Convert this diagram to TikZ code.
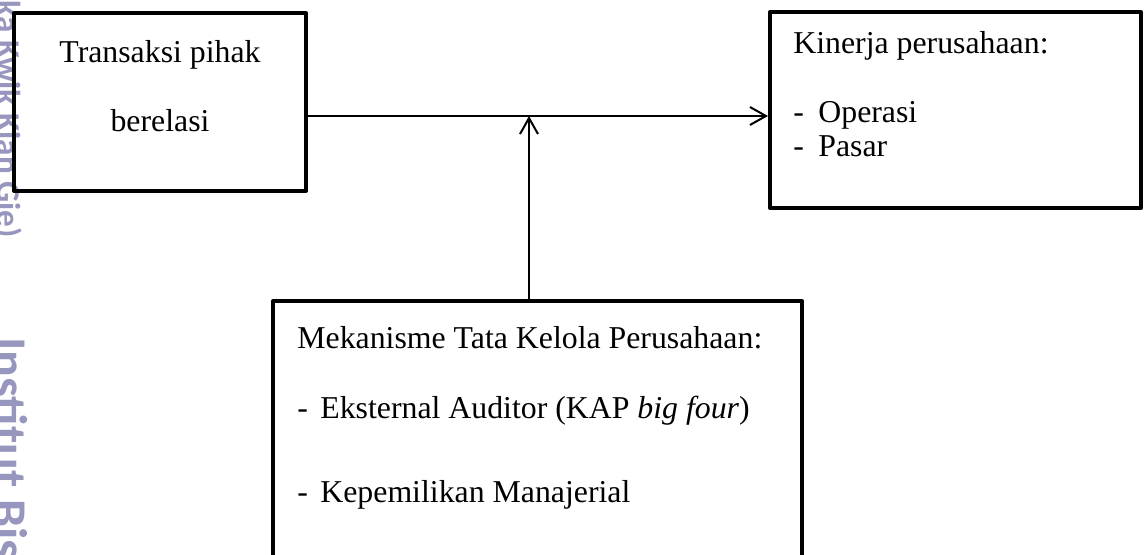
\documentclass[tikz,border=0pt]{standalone}
\usepackage{fontspec}
\setmainfont{Liberation Serif}
\newfontfamily\wmfont{Carlito}
\usetikzlibrary{arrows.meta}
\definecolor{wmcolor}{RGB}{150,150,190}

\begin{document}
\begin{tikzpicture}[x=0.5pt,y=-0.5pt,
	box/.style={shape=rectangle,draw=black,line width=2pt,line join=round,inner sep=0pt},
	txt/.style={anchor=base west,inner sep=0pt,font=\fontsize{15.9}{17}\selectfont},
	wm/.style={text=wmcolor,rotate=-90,inner sep=0pt},
	arr/.style={-{Straight Barb[length=8pt,width=9pt]},line width=1pt}]

	\useasboundingbox (0,0) rectangle (1145,555);
	\clip (0,0) rectangle (1145,555);

	\node[wm,anchor=base east,font=\wmfont\bfseries\fontsize{16.6}{20}\selectfont] (wmtop) at (-3,238) {(Institut Bisnis dan Informatika Kwik Kian Gie)};
	\node[wm,anchor=base west,font=\wmfont\bfseries\fontsize{25}{30}\selectfont] (wmbottom) at (-7,337) {Institut Bisnis dan Informatika Kwik Kian Gie};

	\node[box,minimum width=146pt,minimum height=89pt] (transaksi) at (160,102) {};
	\node[box,minimum width=185.5pt,minimum height=98pt] (kinerja) at (955.5,110) {};
	\node[box,minimum width=264.5pt,minimum height=169.5pt] (mekanisme) at (537.5,470.5) {};

	\node[txt,anchor=base] (transaksi1) at (160,63) {Transaksi pihak};
	\node[txt,anchor=base] (transaksi2) at (160,132) {berelasi};

	\node[txt] (kinerja0) at (793,54) {Kinerja perusahaan:};
	\node[txt] (dashop) at (793,123) {-};
	\node[txt] (kinerja1) at (818,123) {Operasi};
	\node[txt] (dashps) at (793,157) {-};
	\node[txt] (kinerja2) at (818,157) {Pasar};

	\node[txt] (mekanisme0) at (297,349) {Mekanisme Tata Kelola Perusahaan:};
	\node[txt] (dashea) at (297,418) {-};
	\node[txt] (mekanisme1) at (320,418) {Eksternal Auditor (KAP \textit{big four})};
	\node[txt] (dashkm) at (297,502) {-};
	\node[txt] (mekanisme2) at (320,502) {Kepemilikan Manajerial};

	\coordinate (junction) at (529,116);
	\draw[arr] (transaksi.east |- junction) -- (kinerja.west |- junction);
	\draw[arr] (mekanisme.north -| junction) -- (junction);

\end{tikzpicture}
\end{document}
